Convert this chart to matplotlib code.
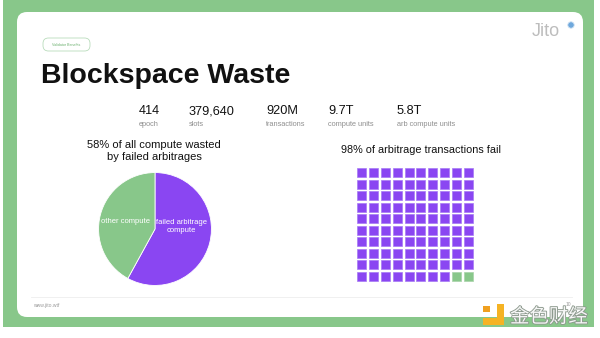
import numpy as np
import matplotlib
matplotlib.use('Agg')
from matplotlib import pyplot as plt
from matplotlib.patches import FancyBboxPatch, Rectangle, Circle
from matplotlib import patheffects as pe

plt.rcParams['font.family'] = ['Liberation Sans', 'DejaVu Sans']

# chart data
stat_values = ['414', '379,640', '920M', '9.7T', '5.8T']
stat_labels = ['epoch', 'slots', 'transactions', 'compute units', 'arb compute units']
pie_labels = ['failed arbitrage\ncompute', 'other compute']
pie_shares = [58, 42]
waffle_failed = 98
waffle_total = 100

purple = '#8a46f2'
green = '#88c78a'

fig = plt.figure(figsize=(6, 3.38), dpi=100)
fig.patch.set_facecolor('white')

# background axes in pixel coords
bg = fig.add_axes([0, 0, 1, 1])
bg.set_xlim(0, 600)
bg.set_ylim(338, 0)
bg.axis('off')

bg.add_patch(Rectangle((3, 0), 591, 327, facecolor=green, edgecolor='none'))
bg.add_patch(FancyBboxPatch((25, 20), 550, 289, boxstyle='round,pad=8,rounding_size=10',
                            facecolor='white', edgecolor='none'))

# pill
bg.add_patch(FancyBboxPatch((45, 40), 43, 9, boxstyle='round,pad=2,rounding_size=5.5',
                            facecolor='white', edgecolor='#b9dcbb', lw=0.6))
bg.text(66.5, 44.5, 'Validator Benefits', fontsize=2.6, color='#6bb06e', ha='center', va='center')

bg.text(41, 76, 'Blockspace Waste', fontsize=20.5, fontweight='bold', color='#111111',
        ha='left', va='center')

# jito logo
bg.text(546, 32, 'Jito', fontsize=13, color='#bdbdbd', ha='center', va='center')
bg.add_patch(Circle((571, 25), 3.2, facecolor='#6fa8dc', edgecolor='#cfe2f3', lw=0.6))

# stats row
stat_x = [139, 189, 266, 328, 397]
for x, v, lab in zip(stat_x, stat_values, stat_labels):
    bg.text(x, 111, v, fontsize=9.2, color='#111111', ha='left', va='center')
    bg.text(x, 124, lab, fontsize=5.3, color='#8f8f8f', ha='left', va='center')

# titles
bg.text(154, 151, '58% of all compute wasted\nby failed arbitrages', fontsize=8,
        color='#111111', ha='center', va='center', linespacing=1.35)
bg.text(421, 150, '98% of arbitrage transactions fail', fontsize=7.8,
        color='#111111', ha='center', va='center')

# footer
bg.plot([31, 572], [297, 297], color='#eeeeee', lw=0.6)
bg.text(33, 305, 'www.jito.wtf', fontsize=3.6, color='#9a9a9a', ha='left', va='center')
bg.text(566, 304, '10', fontsize=3.6, color='#9a9a9a', ha='left', va='center')

# watermark
bg.add_patch(Rectangle((497, 304), 7, 21, facecolor='#f5b324', edgecolor='none'))
bg.add_patch(Rectangle((483, 318), 21, 7, facecolor='#f5b324', edgecolor='none'))
bg.add_patch(Rectangle((483, 306), 7, 6, facecolor='#f0a020', edgecolor='none'))
bg.text(549, 317, '金色财经', fontsize=14, color='#f6f6f6', ha='center', va='center',
        family=['Noto Sans CJK SC', 'DejaVu Sans'],
        path_effects=[pe.withStroke(linewidth=1.3, foreground='#8d9a8e')])

# pie chart
W, H = 600, 338
pax = fig.add_axes([98 / W, (H - 286) / H, 114 / W, 114 / H])
wedges, texts = pax.pie(pie_shares, labels=pie_labels, colors=[purple, green], startangle=90,
                        counterclock=False, labeldistance=0.5,
                        wedgeprops=dict(edgecolor='white', linewidth=0.6),
                        textprops=dict(color='white', fontsize=5.5, ha='center', va='center'))
texts[0].set_position((0.47, 0.05))
texts[1].set_position((-0.53, 0.14))
pax.set_xlim(-1.01, 1.01)
pax.set_ylim(-1.01, 1.01)
pax.set_aspect('equal')

# waffle chart
wax = fig.add_axes([356 / W, (H - 282) / H, 118 / W, 115 / H])
wax.set_xlim(0, 10)
wax.set_ylim(10, 0)
wax.axis('off')
for i in range(waffle_total):
    row, col = divmod(i, 10)
    fc = purple if i < waffle_failed else green
    ec = '#a77af4' if i < waffle_failed else '#a8d3a9'
    wax.add_patch(Rectangle((col + 0.12, row + 0.12), 0.76, 0.76, facecolor=fc,
                            edgecolor=ec, lw=0.5))

fig.savefig('out.png', dpi=100)
